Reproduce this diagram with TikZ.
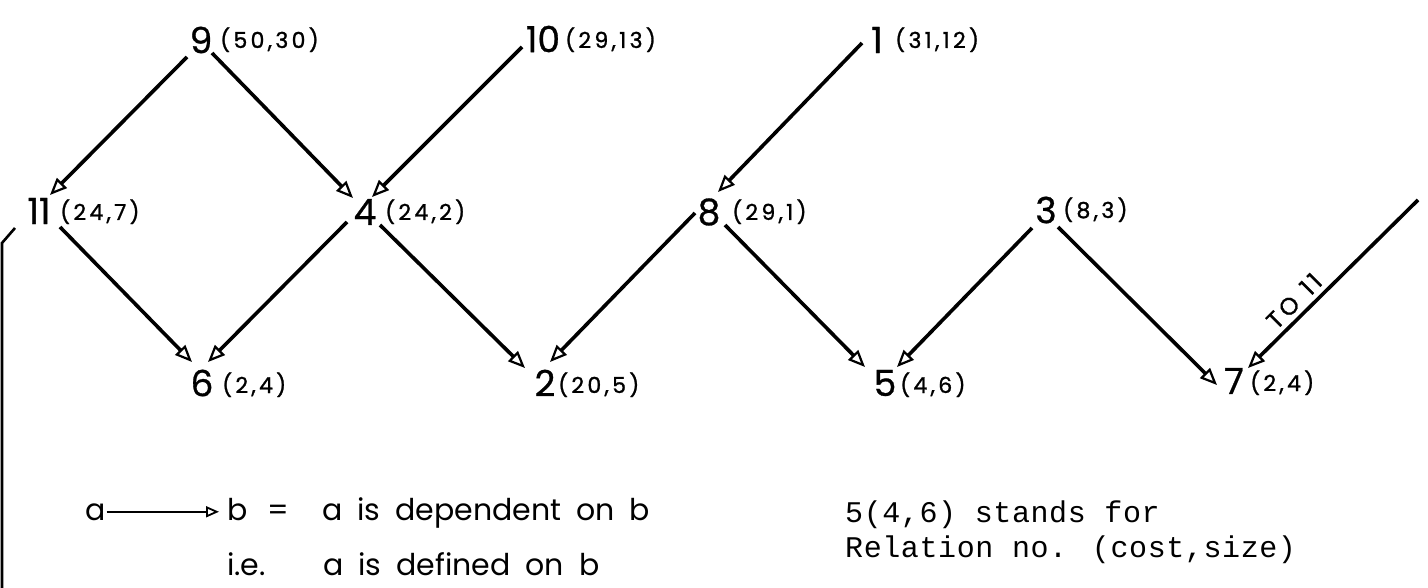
\documentclass[tikz,border=0pt]{standalone}
\usepackage{fontspec}
\setmainfont{Poppins}
\newfontfamily\parfont[LetterSpace=15,FakeBold=1.2]{Poppins}
\newfontfamily\numfont[FakeBold=0.8]{Poppins}
\newfontfamily\twfont[LetterSpace=2]{Liberation Mono}
\newcommand\legendfont{\fontsize{30}{30}\selectfont\spaceskip 15pt\relax}
\usetikzlibrary{arrows.meta,calc}
\begin{document}
\begin{tikzpicture}[x=1pt,y=-1pt,
  num/.style={inner sep=0pt, font=\numfont\fontsize{36}{36}\selectfont},
  par/.style={inner sep=0pt, anchor=base west, font=\parfont\fontsize{22}{22}\selectfont},
  leg/.style={inner sep=0pt, anchor=base west, font=\legendfont},
  tw/.style={inner sep=0pt, anchor=base west, font=\twfont\fontsize{30}{30}\selectfont},
  dep/.style={line width=3.6pt, -{Triangle[open,length=17pt,width=14pt,line width=2.2pt]}},
  thin/.style={line width=2.6pt}]
\useasboundingbox (0,0) rectangle (1428,588);
% relations
\node[num] (n9) at (201,40) {9};
\node[num] (n10) at (543,39) {10};
\node[num] (n1) at (877,40) {1};
\node[num] (n11) at (39,211) {11};
\node[num] (n4) at (365,212) {4};
\node[num] (n8) at (709,212) {8};
\node[num] (n3) at (1046,210) {3};
\node[num] (n6) at (202,383) {6};
\node[num] (n2) at (545,383) {2};
\node[num] (n5) at (885,383) {5};
\node[num] (n7) at (1234,381) {7};
% (cost,size)
\node[par] (p9) at (220,48) {(50,30)};
\node[par] (p10) at (565,48) {(29,13)};
\node[par] (p1) at (895,48) {(31,12)};
\node[par] (p11) at (60,220) {(24,7)};
\node[par] (p4) at (385,220) {(24,2)};
\node[par] (p8) at (732,220) {(29,1)};
\node[par] (p3) at (1063,218) {(8,3)};
\node[par] (p6) at (222,393) {(2,4)};
\node[par] (p2) at (558,393) {(20,5)};
\node[par] (p5) at (900,393) {(4,6)};
\node[par] (p7) at (1250,391) {(2,4)};
% dependencies
\draw[dep] ($(n9)+(-14,17)$) -- ($(n11)+(11,-16)$);
\draw[dep] ($(n9)+(11,13)$) -- ($(n4)+(-12,-14)$);
\draw[dep] ($(n10)+(-21,8)$) -- ($(n4)+(7,-15)$);
\draw[dep] ($(n1)+(-15,3)$) -- ($(n8)+(9,-20)$);
\draw[dep] ($(n11)+(21,16)$) -- ($(n6)+(-10,-21)$);
\draw[dep] ($(n4)+(-18,10)$) -- ($(n6)+(6,-21)$);
\draw[dep] ($(n4)+(15,13)$) -- ($(n2)+(-20,-15)$);
\draw[dep] ($(n8)+(-14,1)$) -- ($(n2)+(5,-21)$);
\draw[dep] ($(n8)+(16,13)$) -- ($(n5)+(-20,-16)$);
\draw[dep] ($(n3)+(-14,18)$) -- ($(n5)+(12,-16)$);
\draw[dep] ($(n3)+(12,17)$) -- ($(n7)+(-17,4)$);
\coordinate (from11) at (1418,200);
\draw[dep] (from11) -- ($(n7)+(14,-13)$);
\node[inner sep=0pt, rotate=45, font=\parfont\fontsize{24}{24}\selectfont] (to11) at (1294,301) {TO\hspace{12pt}11};
% left stub
\coordinate (s1) at (15,228);
\coordinate (s2) at (2,243);
\coordinate (s3) at (2,588);
\draw[thin] (s1) -- (s2) -- (s3);
% legend
\node[leg] (la) at (85,520) {a};
\node[leg] (lb) at (227,520) {b};
\draw[line width=2.2pt, -{Triangle[open,length=13pt,width=11pt,line width=1.8pt]}] ($(la.east)+(1,0)$) -- ($(la.east -| lb.west)+(-8,0)$);
\node[leg] (leq) at (267,520) {=};
\node[leg] (l1) at (322,520) {a is dependent on b};
\node[leg] (lie) at (227,575) {i.e.};
\node[leg] (l2) at (323,575) {a is defined on b};
\node[tw] (t1) at (845,522) {5(4,6) stands for};
\node[tw] (t2) at (845,557) {Relation no. (cost,size)};
\end{tikzpicture}
\end{document}
